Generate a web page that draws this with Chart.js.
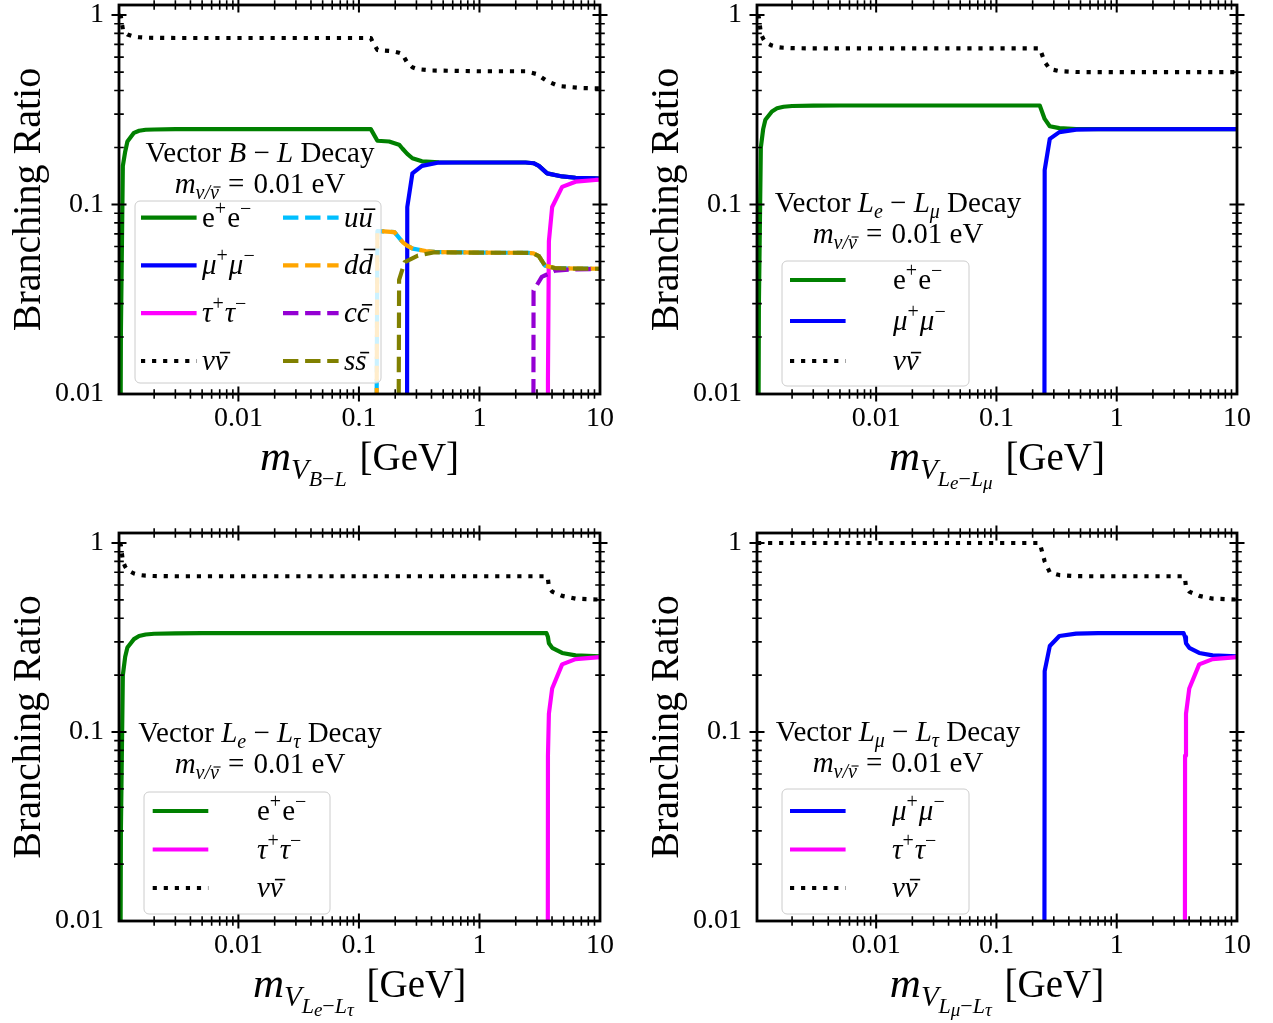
<!DOCTYPE html>
<html>
<head>
<meta charset="utf-8">
<script src="https://cdn.jsdelivr.net/npm/chart.js@4.4.1/dist/chart.umd.min.js"></script>
<style>
  html, body { margin: 0; padding: 0; background: #fff; }
  #wrap { position: relative; width: 1273px; height: 1023px; overflow: hidden; }
  #wrap canvas { position: absolute; left: 0; top: 0; }
</style>
</head>
<body>
<div id="wrap">
  <canvas id="pBL" width="1273" height="1023"></canvas>
  <canvas id="pEM" width="1273" height="1023"></canvas>
  <canvas id="pET" width="1273" height="1023"></canvas>
  <canvas id="pMT" width="1273" height="1023"></canvas>
</div>
<script>
// ---------------- axis ranges and tick labels ----------------
const massMin = 0.001022, massMax = 10;
const brMin = 0.01, brMax = 1.13;
const massTickValues = [0.01, 0.1, 1, 10];
const massTickLabels = ['0.01', '0.1', '1', '10'];
const brTickValues = [0.01, 0.1, 1];
const brTickLabels = ['0.01', '0.1', '1'];

// ---------------- Vector B-L ----------------
const blEeMass = [0.00103, 0.00106, 0.0011, 0.00115, 0.0012, 0.00136, 0.0015, 0.0017, 0.002, 0.003, 0.005, 0.02, 0.1, 0.1255, 0.1423, 0.178, 0.2154, 0.2292, 0.2518, 0.2777, 0.3335, 0.46, 0.7, 1.5, 2.414, 2.81, 3.111, 3.645, 4.853, 6.27, 9.18, 10];
const blEeBR   = [0.0001, 0.021, 0.16, 0.19, 0.215, 0.239, 0.245, 0.248, 0.249, 0.25, 0.25, 0.25, 0.25, 0.25, 0.217, 0.215, 0.207, 0.1975, 0.185, 0.1755, 0.169, 0.1672, 0.1667, 0.1667, 0.1667, 0.1652, 0.160, 0.146, 0.1407, 0.1385, 0.1375, 0.1372];
const blMuMass = [0.245, 0.2518, 0.2777, 0.3335, 0.46, 0.7, 1.5, 2.414, 2.81, 3.111, 3.645, 4.853, 6.27, 9.18, 10];
const blMuBR   = [1e-9, 0.097, 0.146, 0.160, 0.1665, 0.1667, 0.1667, 0.1667, 0.1652, 0.160, 0.146, 0.1407, 0.1385, 0.1375, 0.1372];
const blTauMass = [3.66, 3.70, 3.767, 4.01, 4.85, 6.27, 9.18, 10];
const blTauBR   = [1e-9, 0.012, 0.064, 0.097, 0.124, 0.132, 0.1348, 0.1352];
const blNuMass = [0.001022, 0.00106, 0.0011, 0.00115, 0.0012, 0.00136, 0.0015, 0.0017, 0.002, 0.003, 0.1255, 0.129, 0.1423, 0.185, 0.2154, 0.2292, 0.2518, 0.2777, 0.304, 0.404, 1.0, 2.414, 2.99, 3.62, 4.55, 7.07, 10];
const blNuBR   = [1.0, 0.98, 0.84, 0.81, 0.79, 0.77, 0.764, 0.76, 0.758, 0.757, 0.757, 0.729, 0.654, 0.646, 0.632, 0.623, 0.56, 0.53, 0.519, 0.51, 0.505, 0.505, 0.488, 0.449, 0.422, 0.412, 0.41];
const blUMass = [0.1255, 0.1423, 0.16, 0.197, 0.2312, 0.2511, 0.2797, 0.3585, 0.4248, 1.0, 2.547, 2.81, 3.111, 3.49, 4.22, 6.27, 10];
const blUBR   = [1e-9, 0.0724, 0.0722, 0.0715, 0.0632, 0.0607, 0.0585, 0.0568, 0.0562, 0.0557, 0.0556, 0.0552, 0.0534, 0.0476, 0.0462, 0.0459, 0.0458];
const blDMass = [0.1255, 0.1423, 0.16, 0.197, 0.2312, 0.2511, 0.2797, 0.3585, 0.4248, 1.0, 2.547, 2.81, 3.111, 3.49, 4.22, 6.27, 10];
const blDBR   = [1e-9, 0.0724, 0.0722, 0.0715, 0.0632, 0.0607, 0.0585, 0.0568, 0.0562, 0.0557, 0.0556, 0.0552, 0.0534, 0.0476, 0.0462, 0.0459, 0.0458];
const blCMass = [2.73, 2.81, 3.29, 4.25, 6.0, 10];
const blCBR   = [1e-9, 0.0351, 0.0415, 0.0448, 0.0455, 0.0457];
const blSMass = [0.197, 0.2154, 0.2397, 0.3083, 0.4248, 1.0, 2.547, 2.81, 3.111, 3.49, 4.22, 6.27, 10];
const blSBR   = [1e-9, 0.040, 0.0497, 0.0538, 0.0560, 0.0557, 0.0556, 0.0552, 0.0534, 0.0476, 0.0462, 0.0459, 0.0458];

// ---------------- Vector Le-Lmu ----------------
const emEeMass = [0.00103, 0.00106, 0.0011, 0.00115, 0.0012, 0.00136, 0.0015, 0.0017, 0.002, 0.003, 0.005, 0.2292, 0.2518, 0.2777, 0.3335, 0.46, 0.7, 10];
const emEeBR   = [0.0001, 0.03, 0.2, 0.25, 0.28, 0.31, 0.322, 0.328, 0.331, 0.3328, 0.3333, 0.3333, 0.283, 0.259, 0.253, 0.2503, 0.25, 0.25];
const emMuMass = [0.245, 0.2518, 0.2777, 0.3335, 0.46, 0.7, 10];
const emMuBR   = [1e-9, 0.152, 0.222, 0.241, 0.2485, 0.2497, 0.25];
const emNuMass = [0.001022, 0.00106, 0.0011, 0.00115, 0.0012, 0.00136, 0.0015, 0.0017, 0.002, 0.003, 0.2292, 0.2518, 0.2777, 0.3335, 0.46, 0.7, 10];
const emNuBR   = [1.0, 0.97, 0.80, 0.75, 0.72, 0.69, 0.678, 0.672, 0.669, 0.667, 0.667, 0.566, 0.519, 0.506, 0.5005, 0.5, 0.5];

// ---------------- Vector Le-Ltau ----------------
const etEeMass = [0.00103, 0.00106, 0.0011, 0.00115, 0.0012, 0.00136, 0.0015, 0.0017, 0.002, 0.003, 0.005, 3.60, 3.70, 3.767, 4.01, 4.85, 6.27, 10];
const etEeBR   = [0.0001, 0.03, 0.2, 0.25, 0.28, 0.31, 0.322, 0.328, 0.331, 0.3328, 0.3333, 0.3333, 0.318, 0.295, 0.279, 0.262, 0.2545, 0.2515];
const etTauMass = [3.62, 3.70, 3.767, 4.01, 4.85, 6.27, 10];
const etTauBR   = [1e-9, 0.075, 0.125, 0.17, 0.228, 0.243, 0.249];
const etNuMass = [0.001022, 0.00106, 0.0011, 0.00115, 0.0012, 0.00136, 0.0015, 0.0017, 0.002, 0.003, 3.60, 3.70, 3.767, 4.01, 4.85, 6.27, 10];
const etNuBR   = [1.0, 0.97, 0.80, 0.75, 0.72, 0.69, 0.678, 0.672, 0.669, 0.667, 0.667, 0.645, 0.585, 0.553, 0.525, 0.508, 0.502];

// ---------------- Vector Lmu-Ltau ----------------
const mtMuMass = [0.245, 0.2518, 0.2777, 0.3335, 0.46, 0.7, 3.60, 3.70, 3.767, 4.01, 4.85, 6.27, 10];
const mtMuBR   = [1e-9, 0.21, 0.285, 0.322, 0.3318, 0.3333, 0.3333, 0.318, 0.295, 0.279, 0.262, 0.2545, 0.2515];
const mtTauMass = [3.62, 3.70, 3.767, 4.01, 4.85, 6.27, 10];
const mtTauBR   = [1e-9, 0.075, 0.125, 0.17, 0.228, 0.243, 0.249];
const mtNuMass = [0.001022, 0.2292, 0.2518, 0.2777, 0.3335, 0.46, 0.7, 3.60, 3.70, 3.767, 4.01, 4.85, 6.27, 10];
const mtNuBR   = [1.0, 1.0, 0.80, 0.70, 0.677, 0.668, 0.667, 0.667, 0.645, 0.585, 0.553, 0.525, 0.508, 0.502];

// ---------------- styling ----------------
const SERIF = '"Liberation Serif", "DejaVu Serif", serif';
const LW = 4.17;
const DOT = [LW, 6.88];
const DASH = [15.4, 6.7];
const C = { ee: '#008000', mu: '#0000ff', tau: '#ff00ff', nu: '#000000',
            u: '#00bfff', d: '#ffa500', c: '#9400d3', s: '#808000' };

// rich-text pieces: t text, i italic, s size, dy baseline shift, k extra advance, bar overline (1 low, 2 tall glyph)
const up = (t) => ({ t, s: 20, dy: -12, k: 1 });
const L_EE  = [{ t: 'e' }, up('+'), { t: 'e' }, up('−')];
const L_MU  = [{ t: 'μ', i: 1 }, up('+'), { t: 'μ', i: 1 }, up('−')];
const L_TAU = [{ t: 'τ', i: 1 }, up('+'), { t: 'τ', i: 1 }, up('−')];
const L_NU  = [{ t: 'ν', i: 1 }, { t: 'ν', i: 1, bar: 1 }];
const L_U   = [{ t: 'u', i: 1 }, { t: 'u', i: 1, bar: 1 }];
const L_D   = [{ t: 'd', i: 1 }, { t: 'd', i: 1, bar: 2 }];
const L_C   = [{ t: 'c', i: 1 }, { t: 'c', i: 1, bar: 1 }];
const L_S   = [{ t: 's', i: 1 }, { t: 's', i: 1, bar: 1 }];

const massLine = [
  { t: 'm', i: 1 },
  { t: 'ν', i: 1, s: 20, dy: 6 }, { t: '/', i: 1, s: 20, dy: 6 }, { t: 'ν', i: 1, s: 20, dy: 6, bar: 1, k: 9 },
  { t: '=', k: 2 }, { t: ' 0.01 eV' }
];
const sub = (t) => ({ t, i: 1, s: 20, dy: 6 });
const NOTE = 29;

function font(p, base) { return (p.i ? 'italic ' : '') + (p.s || base) + 'px ' + SERIF; }
function measureRich(ctx, parts, base) {
  let w = 0;
  for (const p of parts) { ctx.font = font(p, base); w += ctx.measureText(p.t).width + (p.k || 0); }
  return w;
}
function drawRich(ctx, parts, x, y, base, align) {
  let cx = x;
  const w = measureRich(ctx, parts, base);
  if (align === 'center') cx -= w / 2; else if (align === 'right') cx -= w;
  ctx.textAlign = 'left';
  ctx.textBaseline = 'alphabetic';
  ctx.fillStyle = '#000';
  ctx.strokeStyle = '#000';
  for (const p of parts) {
    const sz = p.s || base;
    ctx.font = font(p, base);
    const gw = ctx.measureText(p.t).width;
    const by = y + (p.dy || 0);
    ctx.fillText(p.t, cx, by);
    if (p.bar) {
      const h = p.bar === 2 ? 0.86 : 0.6;
      const slant = p.i ? sz * 0.12 : 0;
      ctx.save();
      ctx.lineWidth = Math.max(1, sz * 0.055);
      ctx.setLineDash([]);
      ctx.beginPath();
      ctx.moveTo(cx + gw * 0.12 + slant, by - sz * h);
      ctx.lineTo(cx + gw * 0.92 + slant, by - sz * h);
      ctx.stroke();
      ctx.restore();
    }
    cx += gw + (p.k || 0);
  }
}

function isPow10(v) { const l = Math.log10(v); return Math.abs(l - Math.round(l)) < 1e-9; }
function logTicks(lo, hi) {
  const out = [];
  for (let e = Math.floor(Math.log10(lo)); e <= Math.ceil(Math.log10(hi)); e++) {
    for (let k = 1; k <= 9; k++) {
      const v = k * Math.pow(10, e);
      if (v > lo * 1.0001 && v < hi * 0.9999) out.push(v);
    }
  }
  return out;
}

// frame, inout ticks on all four sides, legend, notes and axis titles
const decor = {
  id: 'decor',
  afterDraw(chart) {
    const cfg = chart.config.options.plugins.decor;
    const { ctx, chartArea: a } = chart;
    const xs = chart.scales.x, ys = chart.scales.y;
    ctx.save();
    ctx.strokeStyle = '#000';
    ctx.lineCap = 'butt';
    for (const v of logTicks(massMin, massMax)) {
      const px = xs.getPixelForValue(v);
      const h = isPow10(v) ? 7.5 : 4.8;
      ctx.lineWidth = isPow10(v) ? 2 : 1.6;
      ctx.beginPath();
      ctx.moveTo(px, a.bottom - h); ctx.lineTo(px, a.bottom + h);
      ctx.moveTo(px, a.top - h); ctx.lineTo(px, a.top + h);
      ctx.stroke();
    }
    for (const v of logTicks(brMin, brMax)) {
      const py = ys.getPixelForValue(v);
      const h = isPow10(v) ? 7.5 : 4.8;
      ctx.lineWidth = isPow10(v) ? 2 : 1.6;
      ctx.beginPath();
      ctx.moveTo(a.left - h, py); ctx.lineTo(a.left + h, py);
      ctx.moveTo(a.right - h, py); ctx.lineTo(a.right + h, py);
      ctx.stroke();
    }
    ctx.lineWidth = 2.8;
    ctx.strokeRect(a.left, a.top, a.right - a.left, a.bottom - a.top);

    // legend
    const lg = cfg.legend;
    const [l, t, r, b] = lg.box;
    ctx.beginPath();
    ctx.roundRect(l, t, r - l, b - t, 5);
    ctx.fillStyle = 'rgba(255,255,255,0.8)';
    ctx.fill();
    ctx.lineWidth = 1;
    ctx.strokeStyle = '#cccccc';
    ctx.stroke();
    for (const row of lg.rows) {
      ctx.save();
      ctx.strokeStyle = row.color;
      ctx.lineWidth = LW;
      ctx.lineCap = 'butt';
      ctx.setLineDash(row.dash || []);
      ctx.beginPath();
      ctx.moveTo(row.x, row.y); ctx.lineTo(row.x + 55.6, row.y);
      ctx.stroke();
      ctx.restore();
      drawRich(ctx, row.label, row.tx, row.y + 9, 29, 'left');
    }

    // annotation
    const n = cfg.note;
    drawRich(ctx, n.line1, n.x, n.y1, NOTE, 'center');
    drawRich(ctx, massLine, n.x, n.y2, NOTE, 'center');

    // axis titles
    ctx.save();
    ctx.translate(cfg.yTitleX, (a.top + a.bottom) / 2);
    ctx.rotate(-Math.PI / 2);
    ctx.font = '40px ' + SERIF;
    ctx.fillStyle = '#000';
    ctx.textAlign = 'center';
    ctx.textBaseline = 'alphabetic';
    ctx.fillText('Branching Ratio', 0, 0);
    ctx.restore();
    drawRich(ctx, cfg.xTitle, (a.left + a.right) / 2, cfg.xTitleY, 39, 'center');
    ctx.restore();
  }
};

function series(label, mass, br, color, dash, extra) {
  return Object.assign({ label, mass, br, color, dash }, extra || {});
}
// x-axis title: m_{V_{A-B}} [GeV] with optional third-level subscripts
function massTitle(a, aSub, b, bSub) {
  const parts = [{ t: 'm', i: 1, s: 43 }, { t: 'V', i: 1, s: 29, dy: 9 }, { t: a, i: 1, s: 22, dy: 16 }];
  if (aSub) parts.push({ t: aSub, i: 1, s: 19, dy: 19 });
  parts.push({ t: '−', s: 22, dy: 16 }, { t: b, i: 1, s: 22, dy: 16 });
  if (bSub) parts.push({ t: bSub, i: 1, s: 19, dy: 19 });
  parts.push({ t: ' ', s: 39, k: 3 }, { t: '[GeV]' });
  return parts;
}

const panels = [
  {
    id: 'pBL', area: { l: 119, t: 5, r: 600, b: 394 },
    series: [
      series('ee', blEeMass, blEeBR, C.ee),
      series('mumu', blMuMass, blMuBR, C.mu),
      series('tautau', blTauMass, blTauBR, C.tau),
      series('nunu', blNuMass, blNuBR, C.nu, DOT),
      series('uu', blUMass, blUBR, C.u, DASH),
      series('dd', blDMass, blDBR, C.d, DASH, { offset: 9 }),
      series('cc', blCMass, blCBR, C.c, DASH),
      series('ss', blSMass, blSBR, C.s, DASH)
    ],
    decor: {
      yTitleX: 40, xTitleY: 470,
      xTitle: massTitle('B', null, 'L', null),
      note: { x: 260, y1: 162, y2: 193, line1: [{ t: 'Vector ' }, { t: 'B', i: 1 }, { t: ' − ' }, { t: 'L', i: 1 }, { t: ' Decay' }] },
      legend: {
        box: [135, 201, 381, 383],
        rows: [
          { x: 141, tx: 202, y: 217.6, color: C.ee, label: L_EE },
          { x: 141, tx: 202, y: 265.4, color: C.mu, label: L_MU },
          { x: 141, tx: 202, y: 313.2, color: C.tau, label: L_TAU },
          { x: 141, tx: 202, y: 361, color: C.nu, dash: DOT, label: L_NU },
          { x: 283, tx: 344, y: 217.6, color: C.u, dash: DASH, label: L_U },
          { x: 283, tx: 344, y: 265.4, color: C.d, dash: DASH, label: L_D },
          { x: 283, tx: 344, y: 313.2, color: C.c, dash: DASH, label: L_C },
          { x: 283, tx: 344, y: 361, color: C.s, dash: DASH, label: L_S }
        ]
      }
    }
  },
  {
    id: 'pEM', area: { l: 757, t: 5, r: 1237, b: 394 },
    series: [
      series('ee', emEeMass, emEeBR, C.ee),
      series('mumu', emMuMass, emMuBR, C.mu),
      series('nunu', emNuMass, emNuBR, C.nu, DOT)
    ],
    decor: {
      yTitleX: 678, xTitleY: 470,
      xTitle: massTitle('L', 'e', 'L', 'μ'),
      note: { x: 898, y1: 212, y2: 243, line1: [{ t: 'Vector ' }, { t: 'L', i: 1 }, sub('e'), { t: ' − ' }, { t: 'L', i: 1 }, sub('μ'), { t: ' Decay' }] },
      legend: {
        box: [782, 261, 969, 386],
        rows: [
          { x: 790, tx: 893, y: 280, color: C.ee, label: L_EE },
          { x: 790, tx: 893, y: 321, color: C.mu, label: L_MU },
          { x: 790, tx: 893, y: 361, color: C.nu, dash: DOT, label: L_NU }
        ]
      }
    }
  },
  {
    id: 'pET', area: { l: 119, t: 533, r: 600, b: 921 },
    series: [
      series('ee', etEeMass, etEeBR, C.ee),
      series('tautau', etTauMass, etTauBR, C.tau),
      series('nunu', etNuMass, etNuBR, C.nu, DOT)
    ],
    decor: {
      yTitleX: 40, xTitleY: 997,
      xTitle: massTitle('L', 'e', 'L', 'τ'),
      note: { x: 260, y1: 742, y2: 773, line1: [{ t: 'Vector ' }, { t: 'L', i: 1 }, sub('e'), { t: ' − ' }, { t: 'L', i: 1 }, sub('τ'), { t: ' Decay' }] },
      legend: {
        box: [144, 792, 330, 914],
        rows: [
          { x: 152.7, tx: 257, y: 811, color: C.ee, label: L_EE },
          { x: 152.7, tx: 257, y: 849.5, color: C.tau, label: L_TAU },
          { x: 152.7, tx: 257, y: 888, color: C.nu, dash: DOT, label: L_NU }
        ]
      }
    }
  },
  {
    id: 'pMT', area: { l: 757, t: 533, r: 1237, b: 921 },
    series: [
      series('mumu', mtMuMass, mtMuBR, C.mu),
      series('tautau', mtTauMass, mtTauBR, C.tau),
      series('nunu', mtNuMass, mtNuBR, C.nu, DOT)
    ],
    decor: {
      yTitleX: 678, xTitleY: 997,
      xTitle: massTitle('L', 'μ', 'L', 'τ'),
      note: { x: 898, y1: 741, y2: 772, line1: [{ t: 'Vector ' }, { t: 'L', i: 1 }, sub('μ'), { t: ' − ' }, { t: 'L', i: 1 }, sub('τ'), { t: ' Decay' }] },
      legend: {
        box: [782, 789, 969, 914],
        rows: [
          { x: 790, tx: 892, y: 811, color: C.mu, label: L_MU },
          { x: 790, tx: 892, y: 849.5, color: C.tau, label: L_TAU },
          { x: 790, tx: 892, y: 888, color: C.nu, dash: DOT, label: L_NU }
        ]
      }
    }
  }
];

const W = 1273, H = 1023, YAXW = 70, XAXH = 60;

for (const p of panels) {
  const n = p.series.length;
  const datasets = p.series.map((s, i) => ({
    label: s.label,
    data: s.mass.map((m, k) => ({ x: m, y: s.br[k] })),
    borderColor: s.color,
    borderWidth: LW,
    borderDash: s.dash || [],
    borderDashOffset: s.offset || 0,
    borderCapStyle: 'butt',
    borderJoinStyle: 'round',
    pointRadius: 0,
    pointHoverRadius: 0,
    fill: false,
    tension: 0,
    clip: 0,
    order: n - i
  }));
  const a = p.area;
  new Chart(document.getElementById(p.id), {
    type: 'line',
    data: { datasets },
    options: {
      responsive: false,
      animation: false,
      devicePixelRatio: 1,
      events: [],
      layout: { padding: { left: a.l - YAXW, top: a.t, right: W - a.r, bottom: H - a.b - XAXH } },
      plugins: { legend: { display: false }, tooltip: { enabled: false }, decor: p.decor },
      scales: {
        x: {
          type: 'logarithmic', position: 'bottom', min: massMin, max: massMax,
          grid: { display: false, drawTicks: false }, border: { display: false },
          ticks: { autoSkip: false, maxRotation: 0, padding: 8, color: '#000',
                   font: { family: SERIF, size: 28 }, callback: (v, i) => massTickLabels[i] },
          afterBuildTicks: (s) => { s.ticks = massTickValues.map(v => ({ value: v })); },
          afterFit: (s) => { s.height = XAXH; s.paddingLeft = 0; s.paddingRight = 0; }
        },
        y: {
          type: 'logarithmic', position: 'left', min: brMin, max: brMax,
          grid: { display: false, drawTicks: false }, border: { display: false },
          ticks: { autoSkip: false, padding: 15, color: '#000',
                   font: { family: SERIF, size: 28 }, callback: (v, i) => brTickLabels[i] },
          afterBuildTicks: (s) => { s.ticks = brTickValues.map(v => ({ value: v })); },
          afterFit: (s) => { s.width = YAXW; s.paddingTop = 0; s.paddingBottom = 0; }
        }
      }
    },
    plugins: [decor]
  });
}
</script>
</body>
</html>
